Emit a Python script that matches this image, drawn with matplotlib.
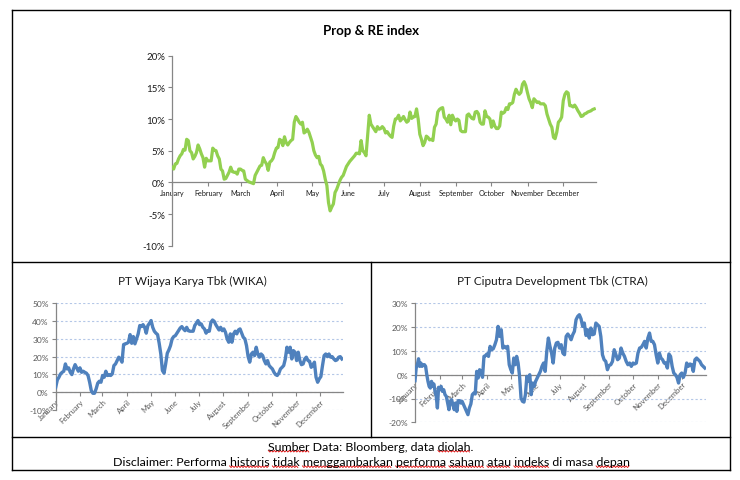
import matplotlib
matplotlib.use('Agg')
import matplotlib.pyplot as plt
from matplotlib.lines import Line2D
from matplotlib.ticker import FuncFormatter
from matplotlib.transforms import IdentityTransform
import numpy as np
import pandas as pd

plt.rcParams['font.family'] = ['Lato', 'DejaVu Sans']

YEAR = 2019
months = ['January', 'February', 'March', 'April', 'May', 'June', 'July',
          'August', 'September', 'October', 'November', 'December']

# Prop & RE index, daily return since start of year (%)
prop_re = [
    2.4, 2.1, 2.9, 3.0, 3.7, 4.2, 4.5, 5.2, 5.1, 6.8,
    6.6, 5.0, 4.7, 3.7, 4.1, 4.7, 5.9, 5.3, 4.5, 3.9,
    2.4, 3.8, 3.4, 3.4, 3.4, 5.4, 5.1, 5.0, 4.2, 3.7,
    2.1, 1.8, 0.5, 0.6, 1.1, 1.6, 2.4, 1.7, 1.6, 1.6,
    1.3, 2.1, 2.1, 1.9, 1.8, 0.5, 0.3, 0.1, 0.0, -0.1,
    -0.2, 1.1, 1.6, 2.1, 2.6, 2.7, 3.9, 3.3, 2.9, 1.9,
    3.2, 3.4, 3.8, 4.7, 5.4, 5.5, 6.8, 6.6, 5.8, 7.2,
    6.3, 5.9, 6.3, 6.6, 6.8, 9.5, 10.4, 10.0, 9.5, 9.2,
    9.5, 7.8, 8.0, 8.4, 7.9, 7.1, 6.3, 5.0, 4.3, 3.9,
    4.1, 2.9, 2.6, 1.8, 0.5, -0.5, -3.2, -4.5, -3.9, -3.4,
    -1.6, -1.1, -0.4, 0.3, 0.8, 1.1, 1.8, 2.5, 2.9, 3.3,
    3.6, 3.9, 4.2, 4.6, 4.6, 4.5, 6.6, 5.0, 4.7, 4.2,
    7.4, 10.6, 9.2, 8.8, 8.4, 8.0, 8.8, 8.4, 8.5, 8.8,
    8.5, 7.8, 8.0, 7.6, 7.3, 7.1, 8.9, 10.0, 10.1, 10.6,
    9.7, 10.0, 10.4, 9.9, 9.5, 9.7, 11.1, 10.1, 10.3, 10.4,
    11.6, 10.0, 7.6, 6.8, 5.8, 6.3, 7.3, 7.1, 6.7, 6.8,
    6.6, 8.7, 9.2, 11.1, 11.5, 11.7, 11.8, 10.3, 10.0, 9.5,
    10.6, 9.1, 10.6, 10.0, 9.7, 10.0, 9.8, 8.2, 8.0, 8.0,
    8.0, 10.6, 10.8, 10.4, 10.1, 10.0, 11.1, 11.2, 10.8, 9.5,
    9.2, 9.2, 11.3, 10.4, 10.3, 10.0, 8.7, 9.7, 8.9, 8.5,
    8.5, 8.9, 11.1, 10.9, 11.1, 11.8, 11.5, 12.4, 12.4, 12.6,
    13.9, 14.7, 14.2, 13.9, 14.2, 15.5, 15.9, 15.3, 14.2, 13.2,
    12.6, 11.8, 13.2, 12.9, 12.6, 12.7, 12.4, 12.4, 12.4, 12.1,
    10.8, 10.0, 9.2, 8.7, 7.1, 6.9, 7.9, 9.5, 9.8, 10.3,
    12.9, 13.9, 14.3, 14.1, 12.1, 12.1, 11.9, 12.2, 11.8, 11.3,
    10.9, 10.4, 10.5, 10.8, 10.9, 11.1, 11.2, 11.3, 11.5, 11.6,
]

# WIKA (%)
wika = [
    2.8, 6.9, 8.4, 10.3, 11.2, 11.8, 15.9, 13.1, 13.7, 11.2,
    9.9, 13.1, 15.5, 13.7, 11.8, 13.7, 11.2, 11.8, 11.2, 10.7,
    9.4, 5.6, 0.9, -0.6, -0.6, 1.9, 5.1, 6.2, 5.6, 9.4,
    8.4, 11.8, 9.4, 9.9, 9.4, 10.3, 15.0, 15.9, 17.8, 19.7,
    18.7, 16.9, 26.8, 27.2, 27.5, 28.1, 32.4, 27.5, 31.3, 27.2,
    30.0, 32.8, 37.5, 36.9, 38.0, 36.5, 33.2, 37.5, 38.8, 40.3,
    36.5, 34.3, 33.2, 32.4, 27.5, 21.5, 12.2, 10.7, 15.9, 21.9,
    23.8, 26.2, 30.0, 31.3, 31.8, 33.2, 34.6, 36.1, 36.9, 35.6,
    34.6, 36.5, 34.6, 34.3, 34.3, 34.3, 37.5, 38.8, 40.3, 38.0,
    38.4, 36.5, 35.6, 33.2, 34.6, 34.3, 39.3, 40.6, 39.9, 38.0,
    36.5, 35.0, 36.5, 34.6, 35.6, 33.7, 30.0, 28.1, 32.8, 28.1,
    32.8, 34.3, 32.8, 35.0, 35.6, 33.2, 30.9, 30.0, 26.2, 20.0,
    16.9, 21.5, 22.5, 20.6, 25.3, 21.5, 19.7, 21.5, 20.6, 17.8,
    15.9, 17.8, 15.0, 14.0, 13.1, 11.2, 9.9, 9.4, 10.7, 13.1,
    14.0, 15.0, 18.7, 25.3, 22.5, 25.3, 18.7, 23.4, 22.5, 17.8,
    22.5, 17.8, 15.5, 15.9, 18.7, 19.7, 17.8, 17.4, 14.0, 15.0,
    16.9, 8.4, 5.6, 7.5, 8.8, 15.0, 20.6, 21.5, 20.0, 21.5,
    19.7, 20.0, 18.7, 17.8, 18.2, 19.7, 20.0, 18.7,
]

# CTRA (%), listed month by month
ctra = [
    -2.5, 2.8, 4.2, 6.7, 3.5, 4.9, 3.5, 4.2, 4.2, 3.5, 0.0, -2.8, -4.9,
    -5.6, -2.8, -4.9, -3.9, -7.0, -9.1, -14.0, -5.3,
    -6.3, -4.9, -7.0, -6.3, -8.4, -9.1, -11.9, -14.7, -11.2, -10.5, -12.6,
    -14.7, -11.9, -15.4, -10.9, -10.9, -11.9,
    -11.2, -12.6, -14.0, -15.4, -16.8, -14.0, -12.3, -8.4, -7.7, -8.1, 1.4,
    -1.4, 2.1, 1.4, -1.1, 7.7, 8.0,
    8.7, 7.7, 11.9, 10.5, 10.9, 12.6, 14.7, 20.3, 16.1, 18.9, 11.2, 11.9,
    11.2, 11.9, 4.2,
    2.1, 0.7, 7.0, 4.2, 7.7, 4.9, -0.7, -9.8, -11.2, -11.5, -8.4, -0.7,
    -2.8, 0.0, -8.4, -3.5, -4.9,
    -2.8, -1.4, 0.0, 1.4, 3.5, 4.9, 1.4, 9.8, 15.4, 11.9, 9.1, 4.9, 11.2,
    13.3, 13.6,
    11.2, 12.6, 9.1, 8.4, 16.1, 17.1, 16.1, 14.7, 16.8, 18.2, 23.1, 24.5,
    25.2, 23.5, 20.3,
    21.7, 16.5, 18.9, 15.4, 19.6, 16.8, 17.1, 21.7, 21.0, 20.3, 16.1, 8.4,
    6.3, 5.6, 2.1,
    3.9, 4.2, 5.6, 10.5, 8.4, 6.3, 7.0, 11.2, 9.1, 7.7, 5.6, 4.2, 4.9, 3.5,
    4.9, 4.5, 4.9, 9.1, 11.2, 11.5, 12.6, 14.0, 11.2, 15.4, 17.5, 14.0,
    14.0, 12.6, 8.4,
    4.9, 9.1, 7.0, 6.3, 4.9, 4.9, 2.8, 8.7, 7.7, 3.5, 0.7, 0.0, -1.1, -3.5,
    0.0,
    0.7, -1.1, 0.7, 4.9, 3.5, 4.5, 4.2, 1.4, 6.3, 7.0, 6.3, 5.6, 4.2, 3.5,
    2.8,
]
ctra_month_counts = [21, 17, 17, 15, 17, 15, 15, 15, 14, 15, 15, 15]

source_text = 'Sumber Data: Bloomberg, data diolah.'
disclaimer_text = 'Disclaimer: Performa historis tidak menggambarkan performa saham atau indeks di masa depan'

W, H = 740, 481
month_starts = pd.date_range(f'{YEAR}-01-01', periods=13, freq='MS')


def fx(px):
    return px / W


def fy(py):
    return 1 - py / H


def pct(v, pos):
    return f'{v:.0f}%'


def setup_axis(ax, ylim, step, end_day, label_color, grid):
    ax.set_ylim(ylim)
    ax.set_yticks(np.arange(ylim[0], ylim[1] + 1, step))
    ax.yaxis.set_major_formatter(FuncFormatter(pct))
    ax.set_xlim(month_starts[0], month_starts[0] + pd.Timedelta(days=end_day))
    ax.set_xticks(month_starts[:12])
    ax.set_xticklabels(months)
    for s in ('top', 'right'):
        ax.spines[s].set_visible(False)
    ax.spines['bottom'].set_position(('data', 0))
    for s in ('left', 'bottom'):
        ax.spines[s].set_color('#868686')
        ax.spines[s].set_linewidth(0.9)
    ax.tick_params(axis='both', direction='out', length=3, width=0.8, color='#868686',
                   labelcolor=label_color)
    if grid:
        ax.yaxis.grid(True, color='#B4C7E7', linestyle=(0, (2, 2)), linewidth=0.8)
        ax.set_axisbelow(True)
    ax.patch.set_alpha(0)


def rotate_labels(ax):
    for lbl in ax.get_xticklabels():
        lbl.set_rotation(45)
        lbl.set_ha('right')
        lbl.set_va('top')
        lbl.set_rotation_mode('anchor')


fig = plt.figure(figsize=(W / 100, H / 100), dpi=100)

# --- Top chart: Prop & RE index
ax1 = fig.add_axes([fx(172), fy(246.7), fx(596 - 172), (246.7 - 56.7) / H])
prop_dates = pd.date_range(month_starts[0], f'{YEAR}-12-28', periods=len(prop_re))
ax1.plot(prop_dates, prop_re, color='#92D050', lw=2.3, zorder=3)
setup_axis(ax1, (-10, 20), 5, 362.5, '#1a1a1a', False)
ax1.tick_params(axis='y', labelsize=7, pad=2)
ax1.tick_params(axis='x', labelsize=5.2, pad=1.5)

# --- WIKA
ax2 = fig.add_axes([fx(55.7), fy(411), fx(342.7 - 55.7), (411 - 304.3) / H])
wika_dates = pd.date_range(month_starts[0], f'{YEAR}-12-29', periods=len(wika))
ax2.plot(wika_dates, wika, color='#4F81BD', lw=2.4, zorder=3)
setup_axis(ax2, (-10, 50), 10, 363, '#595959', True)
ax2.tick_params(axis='y', labelsize=6, pad=2)
ax2.tick_params(axis='x', labelsize=5.6, pad=1)
rotate_labels(ax2)

# --- CTRA
ctra_dates = []
for i, n in enumerate(ctra_month_counts):
    rng = pd.date_range(month_starts[i], month_starts[i + 1], periods=n + 1)[:-1]
    ctra_dates.extend(rng)
ax3 = fig.add_axes([fx(415), fy(423.3), fx(705.7 - 415), (423.3 - 304.3) / H])
ax3.plot(ctra_dates, ctra, color='#4F81BD', lw=2.4, zorder=3)
setup_axis(ax3, (-20, 30), 10, 364, '#595959', True)
ax3.tick_params(axis='y', labelsize=6, pad=2)
ax3.tick_params(axis='x', labelsize=5.6, pad=1)
rotate_labels(ax3)

# --- titles and texts
fig.text(fx(370.5), fy(31), 'Prop & RE index', ha='center', va='center',
         fontsize=9.5, fontweight='bold', color='black')
fig.text(fx(192), fy(281), 'PT Wijaya Karya Tbk (WIKA)', ha='center', va='center',
         fontsize=8.5, color='#1a1a1a')
fig.text(fx(552), fy(281), 'PT Ciputra Development Tbk (CTRA)', ha='center', va='center',
         fontsize=8.5, color='#1a1a1a')
t_src = fig.text(fx(371), fy(447.5), source_text, ha='center', va='center',
                 fontsize=8.9, color='black')
t_dis = fig.text(fx(371), fy(463), disclaimer_text, ha='center', va='center',
                 fontsize=8.9, color='black')

# --- box borders
def hline(y, x0, x1):
    fig.add_artist(Line2D([fx(x0), fx(x1)], [fy(y), fy(y)], color='black', lw=1.0))


def vline(x, y0, y1):
    fig.add_artist(Line2D([fx(x), fx(x)], [fy(y0), fy(y1)], color='black', lw=1.0))


for yy in (10.5, 262.5, 438, 470.5):
    hline(yy, 11.5, 730)
vline(11.5, 10.5, 470.5)
vline(730, 10.5, 470.5)
vline(370.5, 262.5, 438)

# --- spell-check style wavy underlines
renderer = fig.canvas.get_renderer()


def text_width(s, t):
    tmp = fig.text(0, 0, s, fontproperties=t.get_fontproperties())
    w = tmp.get_window_extent(renderer).width
    tmp.remove()
    return w


def wavy(t, words):
    full = t.get_text()
    bb = t.get_window_extent(renderer)
    start = 0
    for w in words:
        i = full.find(w, start)
        start = i + len(w)
        x0 = bb.x0 + text_width(full[:i], t)
        x1 = bb.x0 + text_width(full[:i + len(w)], t)
        xs = np.arange(x0, x1, 1.5)
        ys = bb.y0 + 0.8 + np.where(np.arange(len(xs)) % 2 == 0, 0.8, -0.8)
        fig.add_artist(Line2D(xs, ys, color='#E00000', lw=0.6, transform=IdentityTransform()))


wavy(t_src, ['Sumber', 'diolah'])
wavy(t_dis, ['historis', 'tidak', 'menggambarkan', 'performa', 'saham', 'atau',
             'indeks', 'depan'])

fig.savefig('out.png', dpi=100, facecolor='white')
